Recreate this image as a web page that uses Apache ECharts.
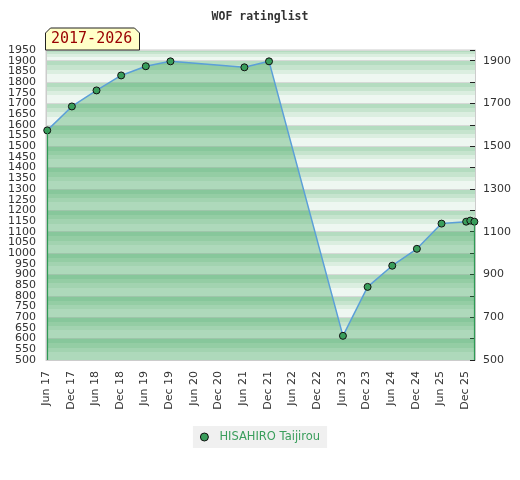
<!DOCTYPE html>
<html>
<head>
<meta charset="utf-8">
<script src="https://cdn.jsdelivr.net/npm/echarts@6/dist/echarts.min.js"></script>
<style>html,body{margin:0;padding:0;background:#fff}#c{width:520px;height:480px}</style>
</head>
<body>
<div id="c"></div>
<script>
var titleText = 'WOF ratinglist';
var periodLabel = '2017-2026';
var playerName = 'HISAHIRO Taijirou';
var dates = ['2017-06-10','2017-12-10','2018-06-10','2018-12-10','2019-06-10','2019-12-10','2021-06-10','2021-12-10','2023-06-10','2023-12-10','2024-06-10','2024-12-10','2025-06-10','2025-12-10','2026-01-10','2026-02-10'];
var ratings = [1574,1686,1761,1831,1874,1897,1869,1897,613,842,941,1020,1138,1147,1152,1147];
var monthNames = ['Jan','Feb','Mar','Apr','May','Jun','Jul','Aug','Sep','Oct','Nov','Dec'];
var yMin = 500, yMax = 1950;

function toIdx(s){
  var p = s.split('-');
  return (+p[0]-2017)*12 + (+p[1]-6) + (+p[2]-1)/30;
}
var xs = dates.map(toIdx);
var seriesData = xs.map(function(x,i){return [x, ratings[i]];});
var xMax = xs[xs.length-1] + 0.15;

var chart = echarts.init(document.getElementById('c'), null, {renderer:'canvas'});
var bandGrad = new echarts.graphic.LinearGradient(0,0,0,1,[
  {offset:0,color:'#b4dcc0'},{offset:0.22,color:'#b4dcc0'},
  {offset:0.22,color:'#c6e4ce'},{offset:0.42,color:'#c6e4ce'},
  {offset:0.42,color:'#dbeee0'},{offset:0.62,color:'#dbeee0'},
  {offset:0.62,color:'#eef7f1'},{offset:1,color:'#eef7f1'}
]);
var labelFont = {fontFamily:'DejaVu Sans', fontSize:11, color:'#333'};
var first = seriesData[0], last = seriesData[seriesData.length-1];

chart.setOption({
  animation:false,
  title:{text:titleText,left:'center',top:6,textStyle:{fontFamily:'DejaVu Sans Mono',fontSize:11.5,fontWeight:'bold',color:'#333'}},
  grid:{left:46,right:45,top:50,bottom:120,show:true,borderColor:'#cccccc',borderWidth:1,backgroundColor:'transparent'},
  legend:{data:[playerName],left:'center',top:426,backgroundColor:'#f0f0f0',padding:[5,7,5,7],itemWidth:8,itemHeight:8,icon:'circle',itemGap:6,
    itemStyle:{borderWidth:1,borderColor:'#111'},
    textStyle:{fontFamily:'DejaVu Sans',fontSize:11.5,color:'#3a9e5c',padding:[0,0,0,6]}},
  xAxis:{type:'value',min:0,max:xMax,interval:6,
    axisLine:{show:true,lineStyle:{color:'#cccccc'}},axisTick:{show:false},splitLine:{show:false},
    axisLabel:Object.assign({rotate:90,margin:11,showMaxLabel:false,formatter:function(v){
      if (Math.abs(v % 6) > 1e-6) return '';
      var m = 5 + v; var y = 2017 + Math.floor(m/12); var mm = m % 12;
      return monthNames[mm] + ' ' + String(y).slice(2);
    }},labelFont)},
  yAxis:[
    {type:'value',min:yMin,max:yMax,interval:50,position:'left',
      axisLine:{show:true,lineStyle:{color:'#cccccc'}},axisTick:{show:false},splitLine:{show:false},
      axisLabel:Object.assign({margin:10,showMinLabel:false,showMaxLabel:false,formatter:function(v){return String(v);}},labelFont)},
    {type:'value',min:yMin,max:yMax,interval:100,position:'right',
      axisLine:{show:true,lineStyle:{color:'#cccccc'}},
      axisTick:{show:true,inside:true,length:5,lineStyle:{color:'#222'}},
      splitLine:{show:true,lineStyle:{color:'#d6d9d7',width:1}},
      splitArea:{show:true,areaStyle:{color:[bandGrad]}},
      axisLabel:Object.assign({margin:8,showMinLabel:true,formatter:function(v){return ((v-yMin)%200===0)?String(v):'';}},labelFont)},
    {type:'value',min:yMin,max:yMax,interval:yMax-yMin,position:'left',
      axisLine:{show:false},axisTick:{show:false},splitLine:{show:false},
      axisLabel:Object.assign({margin:10,showMinLabel:true,showMaxLabel:true,formatter:function(v){return String(v);}},labelFont)}
  ],
  series:[{
    name:playerName,type:'line',data:seriesData,yAxisIndex:0,
    symbol:'circle',symbolSize:7,
    itemStyle:{color:'#3a9e5c',borderColor:'#111',borderWidth:1},
    lineStyle:{color:'#5b9fd8',width:1.5},
    areaStyle:{color:'rgba(46,158,80,0.47)',origin:'start'},
    markLine:{silent:true,symbol:'none',label:{show:false},lineStyle:{color:'#2f9a55',type:'solid',width:1.2},
      data:[[{coord:[first[0],yMin]},{coord:[first[0],first[1]]}],[{coord:[last[0],yMin]},{coord:[last[0],last[1]]}]]},
    z:3
  }],
  graphic:[
    {type:'polygon',z:10,shape:{points:[[45.5,50],[45.5,33],[50.5,28],[134.5,28],[139.5,33],[139.5,50]]},
      style:{fill:'#ffffc8',stroke:'#222',lineWidth:1}},
    {type:'text',z:11,left:51,top:32,style:{text:periodLabel,fill:'#990000',font:'15px "DejaVu Sans Mono"'}}
  ]
});
</script>
</body>
</html>
